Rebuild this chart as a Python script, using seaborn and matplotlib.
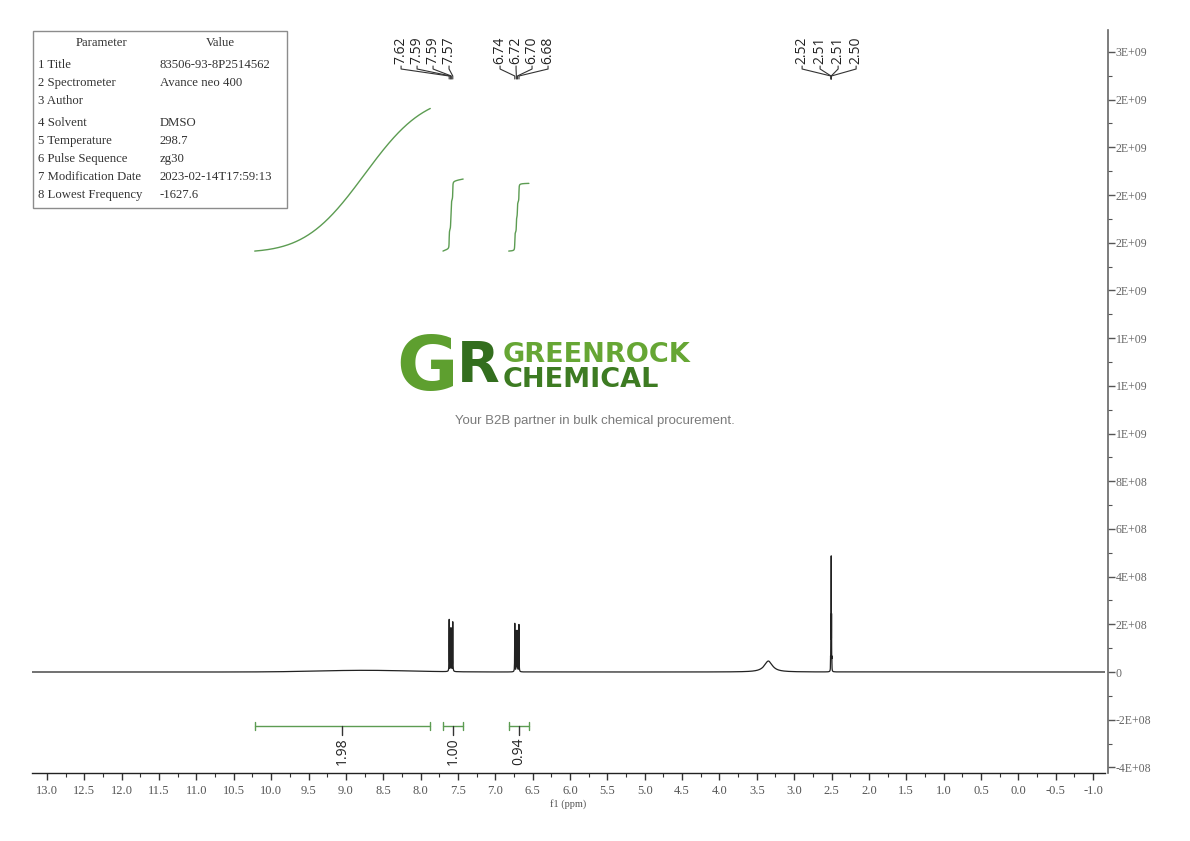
"""
plot.py
1H NMR spectrum (DMSO, 400 MHz) with peak picks, integrals and a parameter table.
"""

import numpy as np
import pandas as pd
import matplotlib
matplotlib.use("Agg")
import matplotlib.pyplot as plt
import seaborn as sns
from matplotlib.ticker import MultipleLocator, FormatStrFormatter, FuncFormatter
from matplotlib.patches import Rectangle
from matplotlib.transforms import blended_transform_factory

# ── Data ─────────────────────────────────────────────────────────────────────

# sharp lines: position (ppm), height, FWHM (ppm)
LINE_PPM    = [7.617, 7.597, 7.589, 7.569,
               6.739, 6.718, 6.704, 6.683,
               2.5125, 2.5082, 2.5038, 2.4995, 2.4952]
LINE_HEIGHT = [2.20e8, 1.75e8, 1.75e8, 2.10e8,
               2.05e8, 1.70e8, 1.70e8, 2.00e8,
               0.45e8, 2.10e8, 4.75e8, 2.10e8, 0.45e8]
LINE_FWHM   = [0.0035] * 8 + [0.0022] * 5

# broad signals (exchangeable H / water)
BROAD_PPM    = [8.75, 3.345]
BROAD_HEIGHT = [0.7e7, 4.6e7]
BROAD_WIDTH  = [0.62, 0.13]

# peak pick labels, one list per multiplet
PICK_LABELS = [["7.62", "7.59", "7.59", "7.57"],
               ["6.74", "6.72", "6.70", "6.68"],
               ["2.52", "2.51", "2.51", "2.50"]]
PICK_PPM    = [[7.617, 7.597, 7.589, 7.569],
               [6.739, 6.718, 6.704, 6.683],
               [2.5082, 2.5060, 2.5038, 2.5016]]
PICK_CENTER = [7.94, 6.615, 2.532]     # where each label fan is centred
PICK_STEP   = [0.214, 0.214, 0.241]

# integrals
INT_FROM   = [10.22, 7.70, 6.82]
INT_TO     = [7.87, 7.43, 6.55]
INT_VALUES = [1.98, 1.00, 0.94]

# acquisition parameter table
PARAM_NAMES  = ["1 Title", "2 Spectrometer", "3 Author", "4 Solvent",
                "5 Temperature", "6 Pulse Sequence", "7 Modification Date",
                "8 Lowest Frequency"]
PARAM_VALUES = ["83506-93-8P2514562", "Avance neo 400", "", "DMSO",
                "298.7", "zg30", "2023-02-14T17:59:13", "-1627.6"]

# ── Layout helpers ───────────────────────────────────────────────────────────

FIG_W, FIG_H = 1190, 841
INT_BASE  = 1.765e9     # integral curves start here (intensity units)
INT_SCALE = 3.02e8      # curve rise per 1.00 of integral
BAR_Y     = -2.26e8

SERIF = ["Liberation Serif", "DejaVu Serif"]
SANS = ["Open Sans", "DejaVu Sans"]


def fx(px):
    return px / FIG_W


def fy(py):
    return 1 - py / FIG_H


def build_spectrum():
    """Sum of Lorentzian lines plus broad humps."""
    ppm = np.arange(-1.25, 13.25, 0.0004)
    inten = np.zeros_like(ppm)
    for c, h, w in zip(LINE_PPM, LINE_HEIGHT, LINE_FWHM):
        inten += h / (1 + ((ppm - c) / (w / 2)) ** 2)
    for c, h, w in zip(BROAD_PPM, BROAD_HEIGHT, BROAD_WIDTH):
        if w > 0.3:
            inten += h * np.exp(-0.5 * ((ppm - c) / w) ** 2)
        else:
            inten += h / (1 + ((ppm - c) / (w / 2)) ** 2)
    return pd.DataFrame({"ppm": ppm, "intensity": inten})


def integral_curve(df, lo, hi, value):
    """Running integral across [lo, hi], drawn from high to low ppm."""
    seg = df[(df.ppm >= lo) & (df.ppm <= hi)].iloc[::-1]
    cum = np.cumsum(seg.intensity.values)
    cum = cum / cum[-1]
    return pd.DataFrame({"ppm": seg.ppm.values,
                         "y": INT_BASE + cum * value * INT_SCALE})


def y_fmt(v, _pos):
    return "0" if abs(v) < 1 else f"{v:.0E}"


# ── Figure ───────────────────────────────────────────────────────────────────

sns.set_theme(style="ticks")
plt.rcParams["font.family"] = SERIF
plt.rcParams["axes.unicode_minus"] = False

fig = plt.figure(figsize=(FIG_W / 100, FIG_H / 100), dpi=100)
ax = fig.add_axes([fx(32), fy(773), fx(1105) - fx(32), fy(30) - fy(773)])
ax.set_facecolor("white")

spec = build_spectrum()
sns.lineplot(data=spec, x="ppm", y="intensity", ax=ax, color="#222222",
             linewidth=0.9, estimator=None, sort=False, errorbar=None)

# integral curves and bars
green = "#5c9c52"
for lo, hi, val in zip(INT_TO, INT_FROM, INT_VALUES):
    curve = integral_curve(spec, lo, hi, val)
    sns.lineplot(data=curve, x="ppm", y="y", ax=ax, color=green,
                 linewidth=1.0, estimator=None, sort=False, errorbar=None)
    mid = (lo + hi) / 2
    ax.plot([hi, lo], [BAR_Y, BAR_Y], color=green, lw=1.0)
    for end in (hi, lo):
        ax.plot([end, end], [BAR_Y - 1.7e7, BAR_Y + 1.7e7], color=green, lw=1.0)
    ax.plot([mid, mid], [BAR_Y, BAR_Y - 4.0e7], color="#333333", lw=1.0)
    ax.text(mid, BAR_Y - 5.0e7, f"{val:.2f}", rotation=90, ha="center",
            va="top", fontsize=10, family=SANS, color="#222222")

# peak pick labels with leader lines
trans = blended_transform_factory(ax.transData, fig.transFigure)
for labels, peaks, centre, step in zip(PICK_LABELS, PICK_PPM, PICK_CENTER, PICK_STEP):
    n = len(labels)
    for i, (lab, pk) in enumerate(zip(labels, peaks)):
        lx = centre + (((n - 1) / 2) - i) * step
        ax.text(lx, fy(64), lab, rotation=90, ha="center", va="bottom",
                fontsize=10, family=SANS, color="#222222", transform=trans)
        ax.plot([lx, lx, pk, pk], [fy(66), fy(69), fy(76), fy(79)],
                color="#333333", lw=0.8, transform=trans, clip_on=False)

# axes styling
ax.set_xlim(13.2008, -1.1606)
ax.set_ylim(-4.235e8, 2.692e9)
for side in ("left", "top"):
    ax.spines[side].set_visible(False)
ax.spines["right"].set_position(("outward", 2.2))
ax.spines["right"].set_color("#666666")
ax.spines["bottom"].set_color("#222222")
ax.spines["right"].set_linewidth(1.2)
ax.spines["bottom"].set_linewidth(1.0)

ax.xaxis.set_major_locator(MultipleLocator(0.5))
ax.xaxis.set_minor_locator(MultipleLocator(0.25))
ax.xaxis.set_major_formatter(FormatStrFormatter("%.1f"))
ax.tick_params(axis="x", which="major", direction="out", length=5, width=1,
               color="#333333", labelsize=9, labelcolor="#555555", pad=4)
ax.tick_params(axis="x", which="minor", direction="out", length=3, width=0.8,
               color="#333333")

ax.yaxis.tick_right()
ax.yaxis.set_major_locator(MultipleLocator(2e8))
ax.yaxis.set_minor_locator(MultipleLocator(1e8))
ax.yaxis.set_major_formatter(FuncFormatter(y_fmt))
ax.tick_params(axis="y", which="major", direction="out", length=5, width=1,
               color="#555555", labelsize=8.5, labelcolor="#666666", pad=0.5)
ax.tick_params(axis="y", which="minor", direction="out", length=3, width=0.8,
               color="#555555")
ax.set_ylabel("")
ax.set_xlabel("f1 (ppm)", fontsize=7.5, color="#555555", labelpad=1)

# ── Parameter table ──────────────────────────────────────────────────────────

fig.add_artist(Rectangle((fx(33), fy(208)), fx(287) - fx(33), fy(31) - fy(208),
                         transform=fig.transFigure, fill=False,
                         edgecolor="#8c8c8c", linewidth=1.0))
fig.text(fx(102), fy(43), "Parameter", ha="center", va="center",
         fontsize=9.2, color="#333333")
fig.text(fx(220), fy(43), "Value", ha="center", va="center",
         fontsize=9.2, color="#333333")
for i, (name, value) in enumerate(zip(PARAM_NAMES, PARAM_VALUES)):
    row_y = 65 + 18 * i + (4 if i >= 3 else 0)
    fig.text(fx(38), fy(row_y), name, ha="left", va="center",
             fontsize=9.2, color="#333333")
    fig.text(fx(160), fy(row_y), value, ha="left", va="center",
             fontsize=9.2, color="#333333")

# ── Watermark ────────────────────────────────────────────────────────────────

fig.text(fx(458), fy(370), "G", ha="right", va="center", fontsize=54,
         fontweight="bold", family="DejaVu Sans", color="#5e9f2f")
fig.text(fx(457), fy(366), "R", ha="left", va="center", fontsize=40,
         fontweight="bold", family="DejaVu Sans", color="#336e1e")
fig.text(fx(503), fy(362), "GREENROCK", ha="left", va="baseline", fontsize=19.5,
         fontweight="bold", family="DejaVu Sans", color="#66a634")
fig.text(fx(503), fy(387), "CHEMICAL", ha="left", va="baseline", fontsize=19.5,
         fontweight="bold", family="DejaVu Sans", color="#3d7b22")
fig.text(fx(595), fy(421), "Your B2B partner in bulk chemical procurement.",
         ha="center", va="center", fontsize=9.5, family="Liberation Sans",
         color="#7a7a7a")

fig.savefig("out.png", dpi=100, facecolor="white")
